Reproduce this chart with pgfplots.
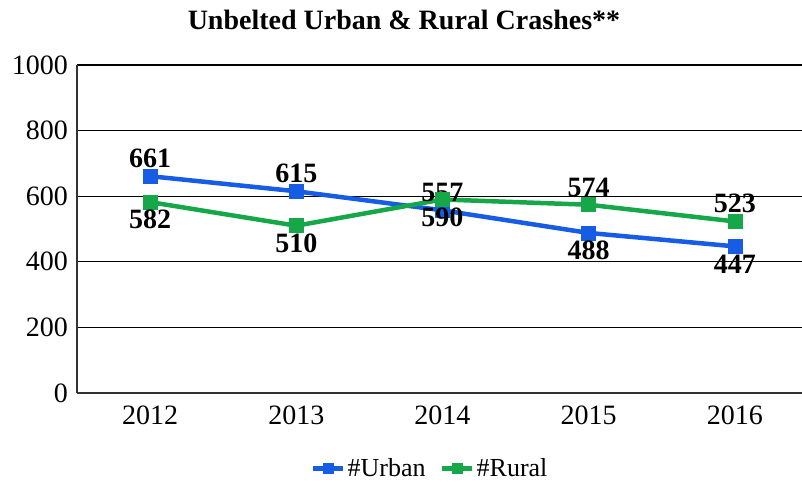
\documentclass[border=0pt]{standalone}
\usepackage{fontspec}
\setmainfont{Liberation Serif}
\usepackage{pgfplots}
\pgfplotsset{compat=1.18}
\definecolor{urban}{RGB}{22,92,228}
\definecolor{rural}{RGB}{22,168,72}

\begin{document}
\begin{tikzpicture}
\begin{axis}[
  scale only axis, width=725pt, height=328pt,
  xmin=-0.5, xmax=4.46, ymin=0, ymax=1000,
  xtick={0,...,4}, xticklabels={2012,2013,2014,2015,2016},
  ytick={0,200,...,1000},
  scaled y ticks=false,
  /pgf/number format/1000 sep={},
  /pgf/number format/assume math mode=true,
  axis x line*=bottom, axis y line*=left,
  axis line style={draw=black!80, line width=1.6pt},
  ymajorgrids, grid style={black, line width=1.2pt},
  major tick length=0pt, tick style={draw=none},
  ticklabel style={font=\fontsize{28}{30}\selectfont, inner sep=0pt},
  yticklabel style={xshift=-9pt},
  xticklabel style={yshift=-13pt},
  title={Unbelted Urban \& Rural Crashes**},
  title style={font=\fontsize{28}{30}\selectfont\bfseries, at={(0.451,1)}, anchor=center, yshift=39pt},
  legend style={draw=none, at={(0.487,-0.229)}, anchor=center, legend columns=2,
    font=\fontsize{26}{28}\selectfont, inner sep=0pt,
    /tikz/every even column/.append style={column sep=12pt}},
  legend image code/.code={
    \draw[#1, line width=5pt] (0pt,0pt) -- (30pt,0pt);
    \draw[#1, mark size=5pt] plot coordinates {(15pt,0pt)};},
  clip=false,
  nodes near coords,
  point meta=y,
  visualization depends on={value \thisrow{pos} \as \lblpos},
  every node near coord/.append style={anchor=\lblpos, inner sep=8pt,
    font=\fontsize{28}{30}\selectfont\bfseries, text=black},
]
\addplot[urban, line width=4.5pt, mark=square*, mark size=7pt,
  mark options={line width=0.5pt}] table {
x y pos
0 661 south
1 615 south
2 557 south
3 488 north
4 447 north
};
\addplot[rural, line width=4.5pt, mark=square*, mark size=7pt,
  mark options={line width=0.5pt}] table {
x y pos
0 582 north
1 510 north
2 590 north
3 574 south
4 523 south
};
\legend{\#Urban, \#Rural}
\end{axis}
\pgfresetboundingbox
\path[use as bounding box] (-77pt,-94pt) rectangle (725pt,393pt);
\end{tikzpicture}
\end{document}
